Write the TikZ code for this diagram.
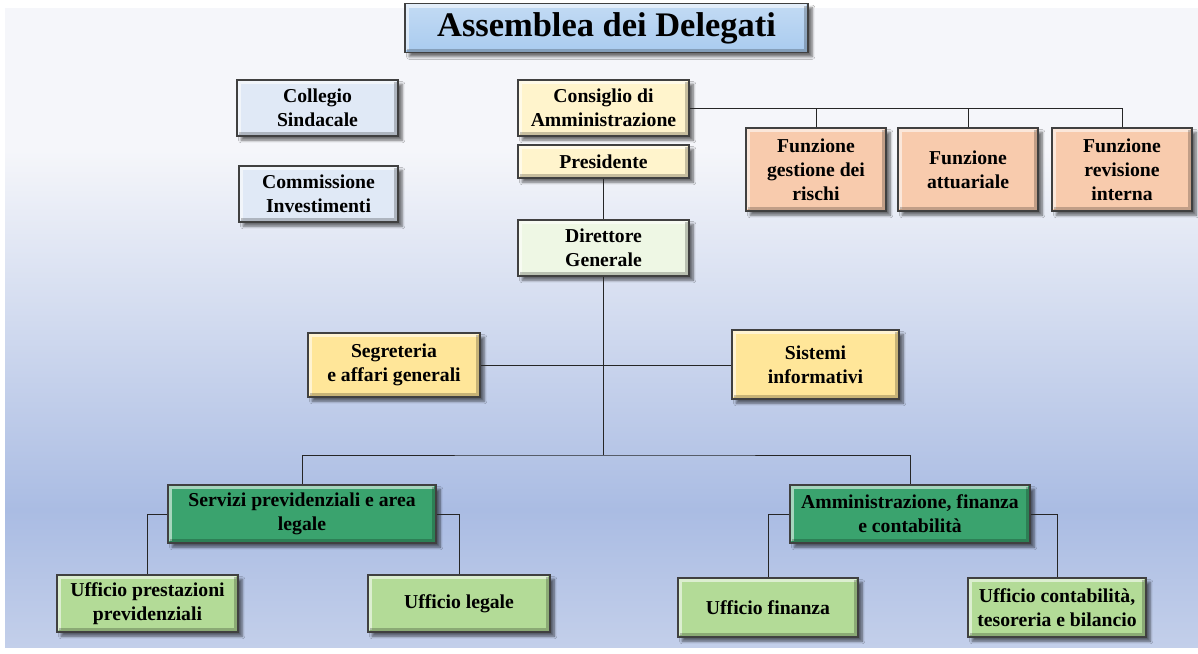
\documentclass[tikz,border=0pt]{standalone}
\usepackage{fontspec}
\setmainfont{Liberation Serif}
\usepackage{tikz}
\usetikzlibrary{shadows.blur}
\definecolor{bgtop}{HTML}{F5F6FA}
\definecolor{bgmid}{HTML}{AABCE3}
\definecolor{bgbot}{HTML}{C3CFEA}
\definecolor{titleblue}{HTML}{A9CBEF}
\definecolor{organo}{HTML}{E0E9F6}
\definecolor{vertice}{HTML}{FFF4CC}
\definecolor{direz}{HTML}{EEF7E4}
\definecolor{funz}{HTML}{F8CBAD}
\definecolor{staff}{HTML}{FFE699}
\definecolor{area}{HTML}{3AA36E}
\definecolor{ufficio}{HTML}{B3DB97}
\tikzstyle{orgbox} = [draw=black!75, line width=0.8pt, rectangle, align=center, inner sep=2pt,
  font=\bfseries\fontsize{14}{17}\selectfont,
  blur shadow={shadow xshift=3pt, shadow yshift=-3pt, shadow blur steps=6, shadow opacity=55},
  path picture={
    \draw[white, opacity=.55, line width=2.5pt]
      ([shift={(1.6pt,1.6pt)}]path picture bounding box.south west) |- ([shift={(-1.6pt,-1.6pt)}]path picture bounding box.north east);
    \draw[black, opacity=.22, line width=2.5pt]
      ([shift={(1.6pt,1.6pt)}]path picture bounding box.south west) -| ([shift={(-1.6pt,-1.6pt)}]path picture bounding box.north east);
  }]
\tikzstyle{link} = [draw=black!85, line width=0.7pt]

\begin{document}
\begin{tikzpicture}[x=0.025cm, y=-0.025cm]
\useasboundingbox (0,0) rectangle (1198,653);
\fill[white] (0,0) rectangle (1198,653);
% background panel
\fill[bgtop] (5,8) rectangle (1198,150);
\shade[top color=bgtop, bottom color=bgmid] (5,150) rectangle (1198,510);
\shade[top color=bgmid, bottom color=bgbot] (5,510) rectangle (1198,647);

% title
\node[orgbox, top color=titleblue!70, bottom color=titleblue, minimum width=10.075cm, minimum height=1.225cm,
  font=\bfseries\fontsize{24.5}{28}\selectfont] (assemblea) at (606.5,28) {Assemblea dei Delegati};

% organi
\node[orgbox, fill=organo, minimum width=4.025cm, minimum height=1.4cm] (collegio) at (317.5,108) {Collegio\\Sindacale};
\node[orgbox, fill=organo, minimum width=3.975cm, minimum height=1.4cm] (commissione) at (318.5,194) {Commissione\\Investimenti};
\node[orgbox, fill=vertice, minimum width=4.275cm, minimum height=1.4cm] (cda) at (603.5,108) {Consiglio di\\Amministrazione};
\node[orgbox, fill=vertice, minimum width=4.275cm, minimum height=0.825cm] (presidente) at (603.5,161.5) {Presidente};
\node[orgbox, fill=direz, minimum width=4.275cm, minimum height=1.4cm] (dg) at (603.5,248) {Direttore\\Generale};

% funzioni di controllo
\node[orgbox, fill=funz, minimum width=3.5cm, minimum height=2.075cm] (fgest) at (816,169.5) {Funzione\\gestione dei\\rischi};
\node[orgbox, fill=funz, minimum width=3.5cm, minimum height=2.075cm] (fatt) at (968,169.5) {Funzione\\attuariale};
\node[orgbox, fill=funz, minimum width=3.5cm, minimum height=2.075cm] (frev) at (1122,169.5) {Funzione\\revisione\\interna};

% staff
\node[orgbox, fill=staff, minimum width=4.3cm, minimum height=1.6cm] (segreteria) at (394,365) {Segreteria\\e affari generali};
\node[orgbox, fill=staff, minimum width=4.175cm, minimum height=1.725cm] (sistemi) at (815.5,364.5) {Sistemi\\informativi};

% aree
\node[orgbox, fill=area, minimum width=6.7cm, minimum height=1.45cm] (servizi) at (302,514) {Servizi previdenziali e area\\legale};
\node[orgbox, fill=area, minimum width=6cm, minimum height=1.45cm] (amm) at (910,514) {Amministrazione, finanza\\e contabilità};

% uffici
\node[orgbox, fill=ufficio, minimum width=4.525cm, minimum height=1.425cm] (uprest) at (147.5,603.5) {Ufficio prestazioni\\previdenziali};
\node[orgbox, fill=ufficio, minimum width=4.55cm, minimum height=1.425cm] (ulegale) at (459,603.5) {Ufficio legale};
\node[orgbox, fill=ufficio, minimum width=4.5cm, minimum height=1.475cm] (ufin) at (768,607.5) {Ufficio finanza};
\node[orgbox, fill=ufficio, minimum width=4.45cm, minimum height=1.475cm] (ucont) at (1057,607.5) {Ufficio contabilità,\\tesoreria e bilancio};

% connettori
\coordinate (split) at (603.5,455);
\draw[link] (cda.east) -| (frev.north);
\draw[link] (fgest.north) -- (fgest.north |- cda.east);
\draw[link] (fatt.north) -- (fatt.north |- cda.east);
\draw[link] (presidente.south) -- (dg.north);
\draw[link] (dg.south) -- (split);
\draw[link] (segreteria.east) -- (segreteria.east -| sistemi.west);
\draw[link] (servizi.north) |- (split) -| (amm.north);
\draw[link] (servizi.west) -| (uprest.north);
\draw[link] (servizi.east) -| (ulegale.north);
\draw[link] (amm.west) -| (ufin.north);
\draw[link] (amm.east) -| (ucont.north);
\end{tikzpicture}
\end{document}
